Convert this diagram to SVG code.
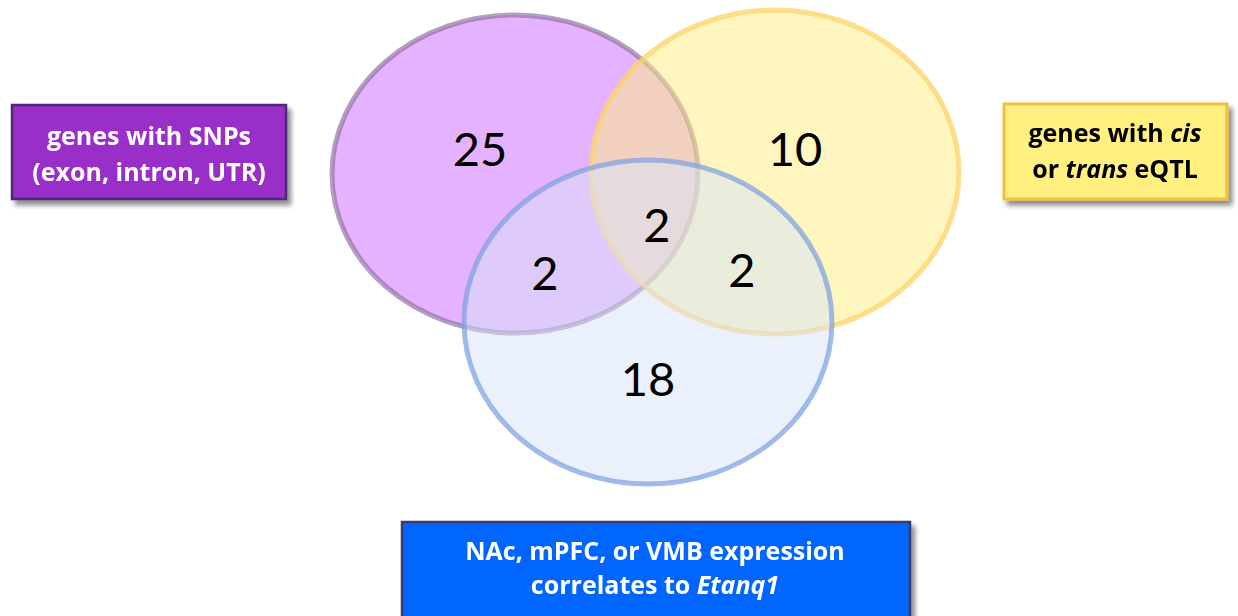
<svg xmlns="http://www.w3.org/2000/svg" width="1238" height="616" viewBox="0 0 1238 616">
<defs>
<filter id="sh" x="-10%" y="-10%" width="125%" height="130%">
<feGaussianBlur in="SourceAlpha" stdDeviation="2.5"/>
<feOffset dx="4" dy="5" result="b"/>
<feComponentTransfer><feFuncA type="linear" slope="0.45"/></feComponentTransfer>
<feMerge><feMergeNode/><feMergeNode in="SourceGraphic"/></feMerge>
</filter>
<style>
.set{stroke-width:5}
.num{font-family:Lato,"Open Sans",sans-serif;font-size:47px;fill:#000;text-anchor:middle}
.lbl{font-family:"Open Sans",Lato,sans-serif;font-weight:bold;font-size:25px;text-anchor:middle}
</style>
</defs>
<rect width="1238" height="616" fill="#fff"/>
<g id="sets">
<g id="set-snps"><ellipse class="set" cx="515" cy="174" rx="183" ry="159" fill="#cc66ff" fill-opacity="0.5" stroke="#8c6f9c" stroke-opacity="0.65"/></g>
<g id="set-eqtl"><ellipse class="set" cx="775" cy="172" rx="184" ry="162" fill="#ffee80" fill-opacity="0.5" stroke="#fdd36a" stroke-opacity="0.75"/></g>
<g id="set-expr"><ellipse class="set" cx="648" cy="322" rx="184" ry="162" fill="#d7e3f9" fill-opacity="0.5" stroke="#7aa0e0" stroke-opacity="0.7"/></g>
</g>
<g id="counts">
<text class="num" x="480" y="166">25</text>
<text class="num" x="795" y="166">10</text>
<text class="num" x="657" y="242">2</text>
<text class="num" x="545" y="290">2</text>
<text class="num" x="742" y="287">2</text>
<text class="num" x="648" y="396">18</text>
</g>
<g id="label-snps" filter="url(#sh)">
<rect x="12" y="105" width="274" height="94" fill="#9a2ec8" stroke="#4e2a78" stroke-width="2.5"/>
<text class="lbl" fill="#fff" font-size="24"><tspan x="149" y="145">genes with SNPs</tspan><tspan x="149" y="181">(exon, intron, UTR)</tspan></text>
</g>
<g id="label-eqtl" filter="url(#sh)">
<rect x="1004" y="104" width="223" height="95" fill="#fff080" stroke="#f3bf3a" stroke-width="3"/>
<text class="lbl" fill="#000"><tspan x="1115" y="142">genes with <tspan font-style="italic">cis</tspan></tspan><tspan x="1115" y="178">or <tspan font-style="italic">trans</tspan> eQTL</tspan></text>
</g>
<g id="label-expr" filter="url(#sh)">
<rect x="402" y="522" width="508" height="96" fill="#0066ff" stroke="#3b3b6e" stroke-width="2.5"/>
<text class="lbl" fill="#fff"><tspan x="655" y="560">NAc, mPFC, or VMB expression</tspan><tspan x="655" y="594">correlates to <tspan font-style="italic">Etanq1</tspan></tspan></text>
</g>
<g id="connectors"/>
</svg>
